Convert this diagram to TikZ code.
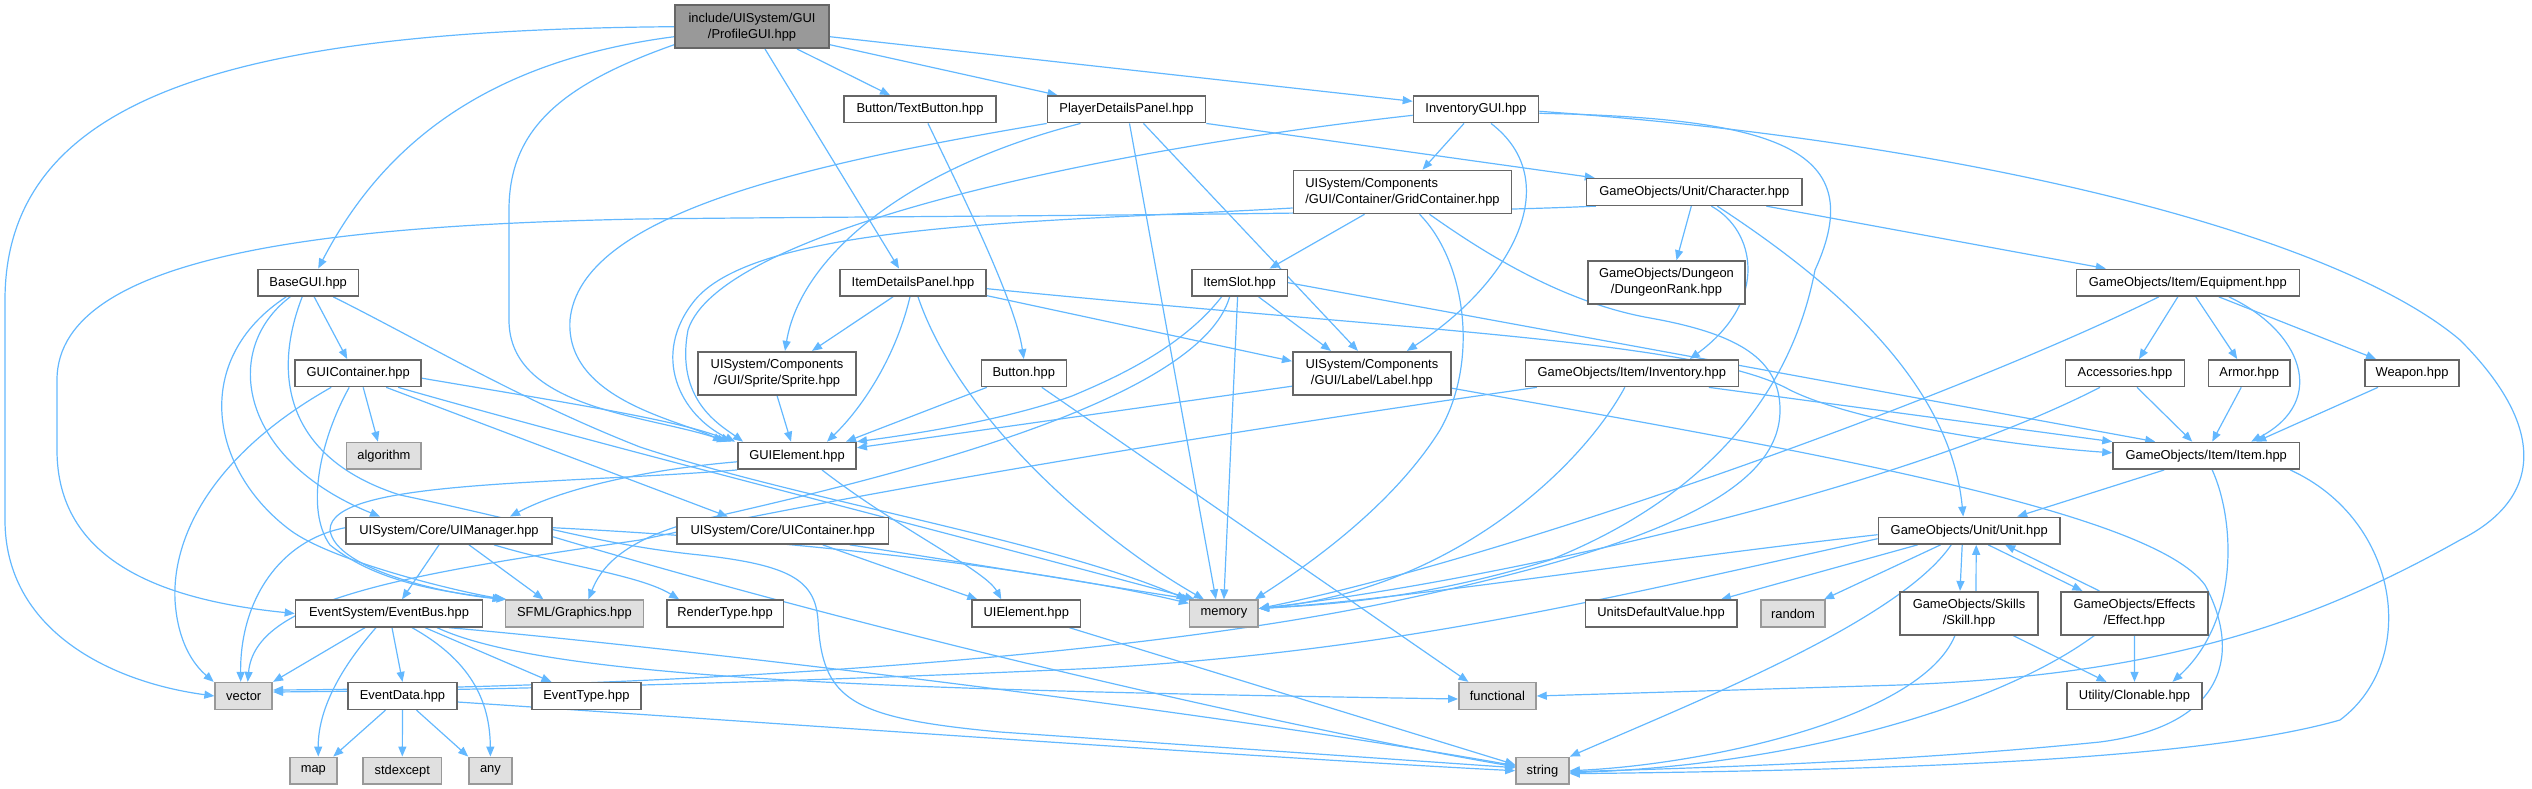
\documentclass[tikz,border=0pt]{standalone}
\usepackage{fontspec}
\setmainfont{Liberation Sans}
\usetikzlibrary{arrows.meta}
\definecolor{edgeblue}{HTML}{63B8FF}
\definecolor{boxline}{HTML}{666666}
\definecolor{extline}{HTML}{999999}
\definecolor{extfill}{HTML}{E0E0E0}
\definecolor{rootfill}{HTML}{999999}
\pgfdeclarelayer{bg}
\pgfsetlayers{bg,main}
\begin{document}
\begin{tikzpicture}[x=1pt,y=-1pt,
 nb/.style={draw=boxline, line width=1.6pt, fill=white, minimum height=26.7pt, inner sep=0pt, font=\fontsize{12.9}{16}\selectfont, align=center},
 xb/.style={nb, draw=extline, fill=extfill},
 tb/.style={nb, minimum height=43pt},
 dep/.style={draw=edgeblue, line width=1.2pt, -{Triangle[length=10pt,width=8pt]}},
]
\useasboundingbox (0,0) rectangle (2532,789);

\node[nb, fill=rootfill, minimum width=154pt, minimum height=43pt] (root) at (752,26.7) {include/UISystem/GUI\\/ProfileGUI.hpp};
\node[nb, minimum width=152pt] (textbutton) at (920,109.3) {Button/TextButton.hpp};
\node[nb, minimum width=158pt] (pdp) at (1126.5,109.3) {PlayerDetailsPanel.hpp};
\node[nb, minimum width=125pt] (invgui) at (1476,109.3) {InventoryGUI.hpp};
\node[tb, minimum width=218pt, align=left] (grid) at (1402.5,192) {UISystem/Components\\/GUI/Container/GridContainer.hpp};
\node[nb, minimum width=215.5pt] (character) at (1694.3,192) {GameObjects/Unit/Character.hpp};
\node[tb, minimum width=157.5pt] (dungeon) at (1666.5,282.5) {GameObjects/Dungeon\\/DungeonRank.hpp};
\node[nb, minimum width=100.4pt] (basegui) at (308.2,282.7) {BaseGUI.hpp};
\node[nb, minimum width=146.5pt] (itemdetails) at (913,282.7) {ItemDetailsPanel.hpp};
\node[nb, minimum width=95.5pt] (itemslot) at (1239.6,282.7) {ItemSlot.hpp};
\node[nb, minimum width=223pt] (equipment) at (2187.8,282.7) {GameObjects/Item/Equipment.hpp};
\node[nb, minimum width=126pt] (guicontainer) at (358.2,373.2) {GUIContainer.hpp};
\node[tb, minimum width=158.3pt] (sprite) at (777,373.2) {UISystem/Components\\/GUI/Sprite/Sprite.hpp};
\node[nb, minimum width=85pt] (button) at (1023.8,373.2) {Button.hpp};
\node[tb, minimum width=158.3pt] (label) at (1371.9,373.2) {UISystem/Components\\/GUI/Label/Label.hpp};
\node[nb, minimum width=213pt] (inventory) at (1631.8,373.2) {GameObjects/Item/Inventory.hpp};
\node[nb, minimum width=118.8pt] (accessories) at (2125,373.2) {Accessories.hpp};
\node[nb, minimum width=81.5pt] (armor) at (2249.2,373.2) {Armor.hpp};
\node[nb, minimum width=94pt] (weapon) at (2412,373.2) {Weapon.hpp};
\node[xb, minimum width=74.7pt] (algorithm) at (383.9,455.8) {algorithm};
\node[nb, minimum width=118.3pt] (guielement) at (797,455.8) {GUIElement.hpp};
\node[nb, minimum width=186.3pt] (item) at (2206.2,455.8) {GameObjects/Item/Item.hpp};
\node[nb, minimum width=205.7pt] (uimanager) at (449,530.7) {UISystem/Core/UIManager.hpp};
\node[nb, minimum width=211.4pt] (uicontainer) at (782.7,530.7) {UISystem/Core/UIContainer.hpp};
\node[nb, minimum width=181.6pt] (unit) at (1969.2,530.7) {GameObjects/Unit/Unit.hpp};
\node[nb, minimum width=187pt] (eventbus) at (389,613.5) {EventSystem/EventBus.hpp};
\node[xb, minimum width=138.2pt] (sfml) at (574.4,613.5) {SFML/Graphics.hpp};
\node[nb, minimum width=116.8pt] (rendertype) at (725.1,613.5) {RenderType.hpp};
\node[nb, minimum width=108.6pt] (uielement) at (1026.3,613.5) {UIElement.hpp};
\node[xb, minimum width=68.6pt] (memory) at (1223.9,613.5) {memory};
\node[nb, minimum width=151.4pt] (unitsdefault) at (1661,613.5) {UnitsDefaultValue.hpp};
\node[xb, minimum width=64.5pt] (random) at (1793,613.5) {random};
\node[tb, minimum width=137.6pt] (skill) at (1969,613.2) {GameObjects/Skills\\/Skill.hpp};
\node[tb, minimum width=146.6pt] (effect) at (2134.4,613.2) {GameObjects/Effects\\/Effect.hpp};
\node[xb, minimum width=57.1pt] (vector) at (243.7,696) {vector};
\node[nb, minimum width=108.5pt] (eventdata) at (402.5,696) {EventData.hpp};
\node[nb, minimum width=109pt] (eventtype) at (586.4,696) {EventType.hpp};
\node[xb, minimum width=77.1pt] (functional) at (1497.4,696) {functional};
\node[nb, minimum width=135.1pt] (clonable) at (2134.5,696) {Utility/Clonable.hpp};
\node[xb, minimum width=46.9pt] (map) at (313.3,770.7) {map};
\node[xb, minimum width=78.7pt] (stdexcept) at (402.3,770.7) {stdexcept};
\node[xb, minimum width=42.8pt] (any) at (490.4,770.7) {any};
\node[xb, minimum width=53pt] (string) at (1542.5,770.7) {string};

\begin{pgfonlayer}{bg}
% root
\draw[dep] (root.west) .. controls (250,30) and (5,90) .. (5,300) -- (5,520) .. controls (5,630) and (110,682) .. (vector.west);
\draw[dep] ([yshift=-10pt]root.west) .. controls (480,62) and (380,150) .. ([xshift=10pt]basegui.north);
\draw[dep] ([yshift=-18pt]root.west) .. controls (560,85) and (509,130) .. (509,210) -- (509,320) .. controls (509,410) and (650,415) .. ([xshift=-10pt]guielement.north west);
\draw[dep] ([xshift=13pt]root.south) -- ([xshift=-14pt]itemdetails.north);
\draw[dep] ([xshift=45pt]root.south) -- ([xshift=-30pt]textbutton.north);
\draw[dep] ([yshift=-18pt]root.east) -- ([xshift=-69pt]pdp.north);
\draw[dep] ([yshift=-10pt]root.east) -- ([yshift=8pt]invgui.west);
% textbutton
\draw[dep] ([xshift=8pt]textbutton.south) .. controls (960,190) and (1015,300) .. (button.north);
% pdp
\draw[dep] (pdp.south west) .. controls (800,165) and (580,215) .. (570,320) .. controls (565,400) and (680,420) .. ([xshift=-14pt]guielement.north west);
\draw[dep] ([xshift=-46pt]pdp.south) .. controls (900,170) and (800,260) .. ([xshift=8pt]sprite.north);
\draw[dep] ([xshift=3pt]pdp.south) -- ([xshift=-8pt]memory.north);
\draw[dep] ([xshift=17pt]pdp.south) -- ([xshift=-14pt]label.north);
\draw[dep] (pdp.south east) -- ([xshift=9pt]character.north west);
% invgui
\draw[dep] ([yshift=-6pt]invgui.west) .. controls (1100,150) and (720,230) .. (688,330) .. controls (675,400) and (720,425) .. ([xshift=6pt]guielement.north west);
\draw[dep] ([xshift=-12pt]invgui.south) -- ([xshift=20pt]grid.north);
\draw[dep] ([xshift=15pt]invgui.south) .. controls (1565,180) and (1515,280) .. ([xshift=35pt]label.north);
\draw[dep] ([yshift=-4pt]invgui.east) .. controls (1780,118) and (1870,150) .. (1815,270) .. controls (1790,400) and (1700,500) .. (1550,560) .. controls (1420,600) and (1320,605) .. ([yshift=5pt]memory.east);
\draw[dep] ([yshift=-2pt]invgui.east) .. controls (1950,140) and (2330,230) .. (2460,340) .. controls (2550,430) and (2540,500) .. (2460,540) .. controls (2300,630) and (2150,675) .. (1900,685) -- (functional.east);
% grid
\draw[dep] ([yshift=-16pt]grid.west) .. controls (1050,222) and (760,222) .. (695,300) .. controls (650,355) and (680,415) .. ([xshift=-2pt]guielement.north west);
\draw[dep] ([xshift=-38pt]grid.south) -- ([xshift=30pt]itemslot.north);
\draw[dep] ([xshift=17pt]grid.south) .. controls (1465,260) and (1480,360) .. (1440,430) .. controls (1390,510) and (1300,570) .. ([xshift=-4pt]memory.north east);
\draw[dep] ([xshift=27pt]grid.south) .. controls (1480,250) and (1560,302) .. (1650,318) .. controls (1740,334) and (1780,360) .. (1780,410) .. controls (1780,490) and (1660,545) .. (1400,600) .. controls (1100,665) and (600,688) .. ([yshift=6pt]vector.east);
% character
\draw[dep] ([xshift=10pt]character.south west) .. controls (1400,215) and (900,216) .. (640,219) .. controls (350,225) and (57,250) .. (57,380) -- (57,450) .. controls (57,560) and (160,600) .. (eventbus.west);
\draw[dep] ([xshift=-3pt]character.south) -- ([xshift=10pt]dungeon.north);
\draw[dep] ([xshift=17pt]character.south) .. controls (1755,230) and (1770,300) .. ([xshift=58pt]inventory.north);
\draw[dep] ([xshift=23pt]character.south) .. controls (1830,280) and (1950,380) .. ([xshift=-6pt]unit.north);
\draw[dep] ([xshift=72pt]character.south) -- ([xshift=-82pt]equipment.north);
% equipment
\draw[dep] ([xshift=-29pt]equipment.south) .. controls (1950,400) and (1500,560) .. ([yshift=5pt]memory.east);
\draw[dep] ([xshift=-10pt]equipment.south) -- ([xshift=14pt]accessories.north);
\draw[dep] ([xshift=8pt]equipment.south) -- ([xshift=-12pt]armor.north);
\draw[dep] ([xshift=31pt]equipment.south) -- ([xshift=-36pt]weapon.north);
\draw[dep] ([xshift=41pt]equipment.south) .. controls (2300,330) and (2330,400) .. ([xshift=45pt]item.north);
% accessories, armor, weapon
\draw[dep] ([xshift=-25pt]accessories.south) .. controls (1900,490) and (1500,580) .. ([yshift=5pt]memory.east);
\draw[dep] ([xshift=12pt]accessories.south) -- ([xshift=-14pt]item.north);
\draw[dep] ([xshift=-8pt]armor.south) -- ([xshift=6pt]item.north);
\draw[dep] ([xshift=-34pt]weapon.south) -- ([xshift=50pt]item.north);
% item
\draw[dep] ([xshift=-42pt]item.south) -- ([xshift=48pt]unit.north);
\draw[dep] ([xshift=6pt]item.south) .. controls (2235,520) and (2240,620) .. ([xshift=38pt]clonable.north);
\draw[dep] ([xshift=84pt]item.south) .. controls (2400,520) and (2420,660) .. (2340,720) .. controls (2200,760) and (1900,770) .. ([yshift=-3pt]string.east);
% inventory
\draw[dep] ([xshift=77pt]inventory.south) -- (item.north west);
\draw[dep] ([xshift=-7pt]inventory.south) .. controls (1580,470) and (1450,590) .. ([yshift=5pt]memory.east);
\draw[dep] ([xshift=-95pt]inventory.south) .. controls (1100,450) and (800,505) .. (640,540) .. controls (400,575) and (255,600) .. ([xshift=4pt]vector.north);
% unit
\draw[dep] ([xshift=-7pt]unit.south) -- ([xshift=-9pt]skill.north);
\draw[dep] ([xshift=7pt]skill.north) -- ([xshift=7pt]unit.south);
\draw[dep] ([xshift=19pt]unit.south) -- ([xshift=-52pt]effect.north);
\draw[dep] ([xshift=-35pt]effect.north) -- ([xshift=36pt]unit.south);
\draw[dep] ([xshift=40pt]unit.south west) -- ([xshift=60pt]unitsdefault.north);
\draw[dep] ([xshift=63pt]unit.south west) -- ([xshift=-2pt]random.north east);
\draw[dep] ([xshift=-18pt]unit.south) .. controls (1900,620) and (1700,700) .. (string.north east);
\draw[dep] ([yshift=-4pt]unit.west) .. controls (1650,560) and (1400,600) .. ([yshift=5pt]memory.east);
\draw[dep] ([yshift=-8pt]unit.west) .. controls (1600,600) and (1400,650) .. (1100,668) .. controls (800,682) and (500,690) .. ([yshift=4pt]vector.east);
% skill, effect
\draw[dep] ([xshift=44pt]skill.south) -- ([xshift=-28pt]clonable.north);
\draw[dep] ([xshift=-14pt]skill.south) .. controls (1920,720) and (1700,765) .. (string.east);
\draw[dep] (effect.south) -- (clonable.north);
\draw[dep] ([xshift=-40pt]effect.south) .. controls (2000,705) and (1800,765) .. ([yshift=-2pt]string.east);
% label
\draw[dep] ([yshift=-13pt]label.west) -- ([yshift=8pt]guielement.east);
\draw[dep] ([yshift=-15pt]label.east) .. controls (1800,450) and (2150,510) .. (2205,585) .. controls (2240,650) and (2230,725) .. (2100,742) .. controls (1900,762) and (1700,768) .. ([yshift=-1pt]string.east);
% itemdetails
\draw[dep] ([xshift=-20pt]itemdetails.south) -- ([xshift=35pt]sprite.north);
\draw[dep] ([xshift=-3pt]itemdetails.south) .. controls (895,360) and (860,410) .. ([xshift=30pt]guielement.north);
\draw[dep] ([xshift=5pt]itemdetails.south) .. controls (960,420) and (1100,540) .. ([xshift=-20pt]memory.north);
\draw[dep] ([yshift=-6pt]itemdetails.east) .. controls (1400,330) and (1700,340) .. (1790,390) .. controls (1850,420) and (2000,445) .. ([yshift=3pt]item.west);
\draw[dep] ([yshift=-13pt]itemdetails.east) -- ([yshift=12pt]label.west);
% itemslot
\draw[dep] ([xshift=-18pt]itemslot.south) .. controls (1180,350) and (1110,380) .. (1072,396) .. controls (1000,422) and (900,436) .. (guielement.north east);
\draw[dep] ([xshift=-10pt]itemslot.south) .. controls (1200,400) and (900,475) .. (700,520) .. controls (620,540) and (600,570) .. ([xshift=14pt]sfml.north);
\draw[dep] ([xshift=-2pt]itemslot.south) -- (memory.north);
\draw[dep] ([xshift=19pt]itemslot.south) -- ([xshift=-41pt]label.north);
\draw[dep] (itemslot.east) -- ([xshift=-51pt]item.north);
% button
\draw[dep] ([xshift=-37pt]button.south) -- ([xshift=49pt]guielement.north);
\draw[dep] ([xshift=18pt]button.south) -- ([xshift=-29pt]functional.north);
% sprite
\draw[dep] (sprite.south) -- ([xshift=-6pt]guielement.north);
% guielement
\draw[dep] ([xshift=25pt]guielement.south) .. controls (900,530) and (985,570) .. ([xshift=-25pt]uielement.north);
\draw[dep] ([yshift=-6pt]guielement.west) .. controls (640,470) and (560,490) .. ([xshift=61pt]uimanager.north);
\draw[dep] (guielement.south west) .. controls (550,485) and (330,480) .. (330,530) .. controls (335,570) and (450,595) .. ([xshift=2pt]sfml.north west);
% uimanager
\draw[dep] ([xshift=-10pt]uimanager.south) -- ([xshift=13pt]eventbus.north);
\draw[dep] ([xshift=20pt]uimanager.south) -- ([xshift=-31pt]sfml.north);
\draw[dep] ([xshift=45pt]uimanager.south) .. controls (560,565) and (640,575) .. ([xshift=-46pt]rendertype.north);
\draw[dep] ([yshift=3pt]uimanager.west) .. controls (280,540) and (240,600) .. ([xshift=-3pt]vector.north);
\draw[dep] ([yshift=3pt]uimanager.east) .. controls (800,540) and (1050,570) .. ([yshift=-4pt]memory.north west);
\draw[dep] ([yshift=-6pt]uimanager.east) .. controls (900,640) and (1300,730) .. ([yshift=4pt]string.west);
% uicontainer
\draw[dep] ([xshift=40pt]uicontainer.south) -- ([xshift=-49pt]uielement.north);
\draw[dep] ([xshift=67pt]uicontainer.south) .. controls (950,560) and (1100,585) .. ([xshift=3pt]memory.north west);
% uielement
\draw[dep] ([xshift=43pt]uielement.south) -- ([yshift=6pt]string.west);
% basegui
\draw[dep] ([xshift=6pt]basegui.south) -- ([xshift=-11pt]guicontainer.north);
\draw[dep] ([xshift=-18pt]basegui.south) .. controls (220,350) and (240,460) .. ([xshift=-69pt]uimanager.north);
\draw[dep] ([xshift=-22pt]basegui.south) .. controls (190,360) and (210,470) .. (290,530) .. controls (330,560) and (450,590) .. (sfml.north west);
\draw[dep] ([xshift=-6pt]basegui.south) .. controls (270,380) and (290,460) .. (400,495) .. controls (520,520) and (600,545) .. (700,555) .. controls (790,565) and (815,580) .. (818,620) .. controls (822,700) and (850,718) .. (1000,732) -- ([yshift=3pt]string.west);
\draw[dep] ([xshift=25pt]basegui.south) .. controls (420,340) and (520,400) .. (640,447) .. controls (800,500) and (1050,540) .. ([xshift=-2pt]memory.north west);
% guicontainer
\draw[dep] ([xshift=-27pt]guicontainer.south) .. controls (220,450) and (172,530) .. (175,600) .. controls (178,650) and (200,670) .. ([xshift=-30pt]vector.north);
\draw[dep] ([xshift=-9pt]guicontainer.south) .. controls (320,440) and (305,510) .. (330,545) .. controls (380,585) and (450,592) .. ([xshift=-2pt]sfml.north west);
\draw[dep] ([xshift=5pt]guicontainer.south) -- ([xshift=-6pt]algorithm.north);
\draw[dep] ([xshift=28pt]guicontainer.south) -- ([xshift=-55pt]uicontainer.north);
\draw[dep] ([xshift=40pt]guicontainer.south) .. controls (600,445) and (900,520) .. ([xshift=6pt]memory.north west);
\draw[dep] ([yshift=-5pt]guicontainer.east) .. controls (550,400) and (680,420) .. ([xshift=-6pt]guielement.north west);
% eventbus
\draw[dep] ([xshift=-24pt]eventbus.south) -- (vector.north east);
\draw[dep] ([xshift=-13pt]eventbus.south) .. controls (330,680) and (318,720) .. ([xshift=5pt]map.north);
\draw[dep] ([xshift=3pt]eventbus.south) -- (eventdata.north);
\draw[dep] ([xshift=23pt]eventbus.south) .. controls (470,660) and (490,700) .. (any.north);
\draw[dep] ([xshift=36pt]eventbus.south) -- ([xshift=-35pt]eventtype.north);
\draw[dep] ([xshift=48pt]eventbus.south) .. controls (550,680) and (900,690) .. ([yshift=-3pt]functional.west);
\draw[dep] ([xshift=60pt]eventbus.south) .. controls (700,650) and (1200,710) .. ([yshift=5pt]string.west);
% eventdata
\draw[dep] ([xshift=-17pt]eventdata.south) -- ([xshift=20pt]map.north);
\draw[dep] (eventdata.south) -- (stdexcept.north);
\draw[dep] ([xshift=14pt]eventdata.south) -- (any.north west);
\draw[dep] ([yshift=-6pt]eventdata.east) .. controls (800,725) and (1300,760) .. (string.west);
\end{pgfonlayer}
\end{tikzpicture}
\end{document}
